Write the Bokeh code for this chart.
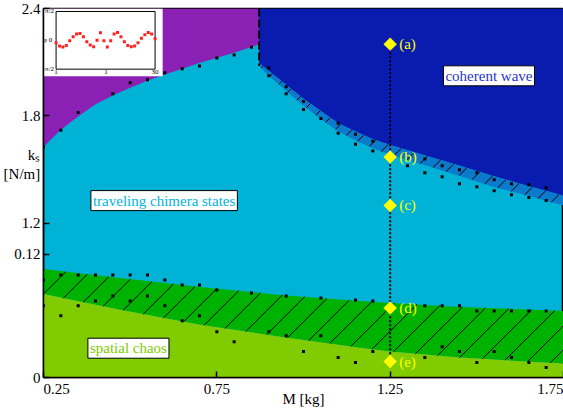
import numpy as np
from bokeh.plotting import figure
from bokeh.models import Range1d, FixedTicker, Label
from bokeh.core.properties import value
from bokeh.embed import file_html
from bokeh.resources import INLINE

FONT = "Liberation Serif"

# ---------------- data ----------------
x_ticks = [0.25, 0.75, 1.25, 1.75]
ks_ticks_lower = [0.0, 0.12]
ks_ticks_upper = [1.2, 1.8, 2.4]
ks_top = 2.4

# boundary: purple region / traveling chimera (upper ks part)
pc_M = [0.25, 0.298, 0.350, 0.399, 0.448, 0.500, 0.549, 0.598, 0.650, 0.699, 0.748, 0.797, 0.848, 0.872]
pc_ks = [1.626, 1.720, 1.797, 1.864, 1.913, 1.958, 1.996, 2.030, 2.063, 2.096, 2.124, 2.151, 2.184, 2.201]

# hatched blue stripe between chimera and coherent wave (upper ks part)
st_M = [0.872, 0.904, 0.953, 0.999, 1.048, 1.100, 1.155, 1.201, 1.250, 1.356, 1.451, 1.547, 1.645, 1.75]
st_up = [2.096, 2.046, 1.969, 1.897, 1.830, 1.759, 1.709, 1.670, 1.637, 1.576, 1.521, 1.465, 1.410, 1.355]
st_lo = [2.079, 2.018, 1.935, 1.858, 1.786, 1.714, 1.659, 1.620, 1.582, 1.521, 1.465, 1.405, 1.355, 1.300]

# hatched green stripe between chimera and spatial chaos (lower ks part)
gs_M = [0.25, 0.471, 0.702, 0.933, 1.163, 1.25, 1.451, 1.75]
gs_up = [0.1055, 0.0968, 0.0881, 0.0803, 0.0745, 0.0726, 0.0687, 0.0648]
gs_lo = [0.0813, 0.0658, 0.0513, 0.0397, 0.0290, 0.0252, 0.0194, 0.0135]

# simulation points (black squares)
mk_pc_M = [0.25, 0.30, 0.35, 0.45, 0.50, 0.55, 0.60, 0.65, 0.70, 0.75, 0.80, 0.85]
mk_pc_ks = [1.626, 1.720, 1.819, 1.924, 1.985, 2.002, 2.041, 2.063, 2.079, 2.124, 2.140, 2.184]
mk_stu_M = [0.90, 0.95, 1.00, 1.05, 1.10, 1.15, 1.20, 1.35, 1.40, 1.45, 1.50, 1.55, 1.60, 1.65, 1.70]
mk_stu_ks = [2.068, 1.963, 1.880, 1.786, 1.759, 1.698, 1.659, 1.559, 1.521, 1.499, 1.482, 1.443, 1.421, 1.416, 1.399]
mk_stl_M = [0.90, 0.95, 1.00, 1.10, 1.15, 1.20, 1.30, 1.35, 1.40, 1.45, 1.50, 1.55, 1.60, 1.65, 1.70]
mk_stl_ks = [2.024, 1.924, 1.836, 1.703, 1.642, 1.604, 1.521, 1.482, 1.460, 1.421, 1.405, 1.382, 1.360, 1.344, 1.327]
mk_gu_M = [0.25, 0.30, 0.35, 0.40, 0.45, 0.50, 0.55, 0.60, 0.65, 0.70, 0.75, 0.85, 0.95, 1.05,
           1.15, 1.20, 1.35, 1.40, 1.45, 1.50, 1.55, 1.60, 1.65, 1.70]
mk_gu_ks = [0.0948, 0.0997, 0.0997, 0.0997, 0.0997, 0.0997, 0.0997, 0.0948, 0.0900, 0.0900, 0.0852,
            0.0823, 0.0794, 0.0774, 0.0755, 0.0745, 0.0697, 0.0697, 0.0697, 0.0648, 0.0648, 0.0648,
            0.0648, 0.0648]
mk_gl_M = [0.25, 0.30, 0.35, 0.40, 0.45, 0.50, 0.55, 0.60, 0.65, 0.70, 0.75, 0.80, 0.90, 0.95,
           1.00, 1.05, 1.10, 1.15, 1.20, 1.35, 1.40, 1.45, 1.50, 1.55, 1.60, 1.65, 1.70]
mk_gl_ks = [0.0697, 0.0600, 0.0697, 0.0745, 0.0794, 0.0745, 0.0794, 0.0697, 0.0552, 0.0600, 0.0445,
            0.0348, 0.0445, 0.0406, 0.0252, 0.0406, 0.0194, 0.0145, 0.0252, 0.0194, 0.0300, 0.0252,
            0.0145, 0.0252, 0.0194, 0.0145, 0.0097]

# selected parameter points (a)-(e) at M = 1.25
sel_M = 1.25
sel_up_ks = [2.201, 1.571, 1.300]
sel_up_txt = ["(a)", "(b)", "(c)"]
sel_lo_ks = [0.0677, 0.0155]
sel_lo_txt = ["(d)", "(e)"]

# inset: phase phi_i of oscillators i = 1..30
inset_i = list(range(1, 31))
inset_phi = [-0.13, -0.31, -0.37, -0.28, -0.02, 0.20, 0.35, 0.37, 0.19, -0.08,
             -0.26, -0.35, 0.00, 0.41, -0.02, -0.37, -0.02, 0.35, 0.42, 0.20,
             -0.08, -0.28, -0.35, -0.31, -0.13, 0.11, 0.30, 0.42, 0.35, 0.09]

# ---------------- colours ----------------
C_PURPLE = "#8b20b5"
C_DBLUE = "#0a1cb0"
C_MBLUE = "#0c7acc"
C_CYAN = "#00b2d6"
C_GREEN = "#00b200"
C_LGREEN = "#80cc00"
C_YEL = "#ffff00"

# ---------------- layout / broken y axis ----------------
W, H = 563, 409
B_LEFT, B_TOP, B_BOTTOM = 43, 8, 30
FRAME_W, FRAME_H = W - B_LEFT, H - B_TOP - B_BOTTOM
X0, X1 = 0.25, 1.75
D_TOP = 371.0
LOW_END = 0.12 * D_TOP / 124.0            # lower part: 0 .. 0.12 -> 0 .. 124
UP_START = 1.2 - 155.0 * 1.2 / 216.0       # upper part: 1.2 .. 2.4 -> 155 .. 371
UP_END = ks_top

def d_low(k):
    return np.asarray(k, dtype=float) / LOW_END * D_TOP

def d_up(k):
    return (np.asarray(k, dtype=float) - UP_START) / (UP_END - UP_START) * D_TOP

SX = FRAME_W / (X1 - X0)   # px per M unit
SY = FRAME_H / D_TOP       # px per display unit

def hatch(Mpoly, Dpoly, step):
    """45-degree hatch lines clipped to a polygon given in (M, display) coords."""
    px = (np.asarray(Mpoly) - X0) * SX
    py = np.asarray(Dpoly) * SY
    n = len(px)
    v = px - py
    out = ([], [], [], [])
    c = np.floor(v.min() / step) * step + step / 2
    while c < v.max():
        pts = []
        for i in range(n):
            j = (i + 1) % n
            f1, f2 = v[i] - c, v[j] - c
            if (f1 > 0) != (f2 > 0):
                t = f1 / (f1 - f2)
                pts.append((px[i] + t * (px[j] - px[i]), py[i] + t * (py[j] - py[i])))
        pts.sort()
        for a, b in zip(pts[0::2], pts[1::2]):
            out[0].append(a[0] / SX + X0); out[1].append(a[1] / SY)
            out[2].append(b[0] / SX + X0); out[3].append(b[1] / SY)
        c += step
    return out

p = figure(width=W, height=H, x_range=Range1d(X0, X1), y_range=Range1d(0, D_TOP),
           output_backend="svg", toolbar_location=None,
           min_border_left=B_LEFT, min_border_right=0, min_border_top=B_TOP,
           min_border_bottom=B_BOTTOM)
p.extra_y_ranges = {"upper": Range1d(UP_START, UP_END), "lower": Range1d(0, LOW_END)}
p.background_fill_color = C_CYAN
p.border_fill_color = "white"
p.outline_line_color = "black"
p.outline_line_width = 1.5
p.grid.visible = False

# regions (upper part)
p.patch(pc_M + [pc_M[-1], pc_M[0]], pc_ks + [ks_top, ks_top], y_range_name="upper",
        fill_color=C_PURPLE, line_color=None)
p.patch([st_M[0]] + st_M + [st_M[-1]], [ks_top] + st_up + [ks_top], y_range_name="upper",
        fill_color=C_DBLUE, line_color=None)
p.patch(st_M + st_M[::-1], st_up + st_lo[::-1], y_range_name="upper",
        fill_color=C_MBLUE, line_color=None)
# regions (lower part)
p.patch(gs_M + gs_M[::-1], gs_up + gs_lo[::-1], y_range_name="lower",
        fill_color=C_GREEN, line_color=None)
p.patch(gs_M + [gs_M[-1], gs_M[0]], gs_lo + [0, 0], y_range_name="lower",
        fill_color=C_LGREEN, line_color=None)

# hatching of the transition stripes
for Mp, Dp, step in [(st_M + st_M[::-1], list(d_up(st_up)) + list(d_up(st_lo[::-1])), 17),
                     (gs_M + gs_M[::-1], list(d_low(gs_up)) + list(d_low(gs_lo[::-1])), 24)]:
    x0, y0, x1, y1 = hatch(Mp, Dp, step)
    p.segment(x0, y0, x1, y1, line_color="black", line_width=1)

# dashed border of coherent wave
p.line([st_M[0], st_M[0]], [ks_top, st_lo[0]], y_range_name="upper",
       line_color="black", line_width=2, line_dash="8 3")

# simulation points
for mx, my, rng in [(mk_pc_M, mk_pc_ks, "upper"), (mk_stu_M, mk_stu_ks, "upper"),
                    (mk_stl_M, mk_stl_ks, "upper"), (mk_gu_M, mk_gu_ks, "lower"),
                    (mk_gl_M, mk_gl_ks, "lower")]:
    p.scatter(mx, my, y_range_name=rng, marker="square", size=3,
              fill_color="black", line_color=None)

# dotted vertical line through (a)-(e)
p.line([sel_M, sel_M], [float(d_up(sel_up_ks[0])), float(d_low(sel_lo_ks[-1]))],
       line_color="black", line_width=2, line_dash="2 2")

for ks, txt, rng in [(sel_up_ks, sel_up_txt, "upper"), (sel_lo_ks, sel_lo_txt, "lower")]:
    p.scatter([sel_M] * len(ks), ks, y_range_name=rng, marker="square", angle=np.pi / 4,
              size=9.5, fill_color=C_YEL, line_color=None)
    p.text([sel_M] * len(ks), ks, text=txt, y_range_name=rng, x_offset=9,
           text_baseline="middle", text_align="left", text_color=C_YEL,
           text_font=value(FONT), text_font_size="15px")

# region labels
def region_label(x, y, rng, txt, col):
    p.add_layout(Label(x=x, y=y, y_range_name=rng, text=txt, text_color=col,
                       text_font=FONT, text_font_size="15px", text_align="center",
                       text_baseline="middle", background_fill_color="white",
                       border_line_color="black", border_line_width=1, padding=2))

region_label(1.535, 2.024, "upper", "coherent wave", "#1f35c8")
region_label(0.598, 1.327, "upper", "traveling chimera states", "#00b4d8")
region_label(0.495, 0.0285, "lower", "spatial chaos", C_LGREEN)

# ---------------- inset ----------------
p.quad(left=0.25, right=0.5937, bottom=303, top=D_TOP, fill_color="white", line_color=None)
inset = p.subplot(x_source=Range1d(1, 30), y_source=Range1d(-np.pi / 2, np.pi / 2),
                  x_target=Range1d(0.2863, 0.5719), y_target=Range1d(310, 368))
inset.quad(left=1, right=30, bottom=-np.pi / 2, top=np.pi / 2, fill_color=None,
           line_color="black", line_width=1)
inset.scatter(inset_i, inset_phi, marker="square", size=3, fill_color="#ff2020", line_color=None)
inset.text([1, 1, 1], [np.pi / 2, 0, -np.pi / 2], text=["π/2", "φ  0", "-π/2"], x_offset=-2,
           text_align="right", text_baseline="middle", text_font=value(FONT),
           text_font_size="7px", text_color="black")
inset.text([1, 15.6, 30], [-np.pi / 2] * 3, text=["1", "1", "30"], y_offset=1,
           text_align="center", text_baseline="top", text_font=value(FONT),
           text_font_size="7px", text_color="black")

# ---------------- axes ----------------
xa = p.xaxis[0]
xa.ticker = FixedTicker(ticks=x_ticks)
xa.major_label_overrides = {x_ticks[0]: "\u00a0" * 7 + "0.25"}
xa.axis_label = "M [kg]"
xa.axis_label_standoff = -9
ya = p.yaxis[0]
tick_pos = [int(round(float(d_low(k)))) for k in ks_ticks_lower] + \
           [int(round(float(d_up(k)))) for k in ks_ticks_upper]
tick_txt = ["0", "0.12"] + ["%.1f" % k for k in ks_ticks_upper]
ya.ticker = FixedTicker(ticks=tick_pos)
ya.major_label_overrides = {t: s for t, s in zip(tick_pos, tick_txt)}
ya.axis_label = "k\u209b\n[N/m]\n\n\n"
ya.axis_label_orientation = "horizontal"
ya.axis_label_standoff = -29
for ax in (xa, ya):
    ax.major_label_text_font = FONT
    ax.major_label_text_font_size = "15px"
    ax.major_label_text_color = "black"
    ax.axis_label_text_font = FONT
    ax.axis_label_text_font_size = "15px"
    ax.axis_label_text_font_style = "normal"
    ax.axis_label_text_color = "black"
    ax.major_tick_in = 6
    ax.major_tick_out = 0
    ax.minor_tick_line_color = None
    ax.axis_line_width = 1.5
    ax.major_tick_line_width = 1.5
    ax.major_label_standoff = 3

open("out.html", "w").write(file_html(p, INLINE))
